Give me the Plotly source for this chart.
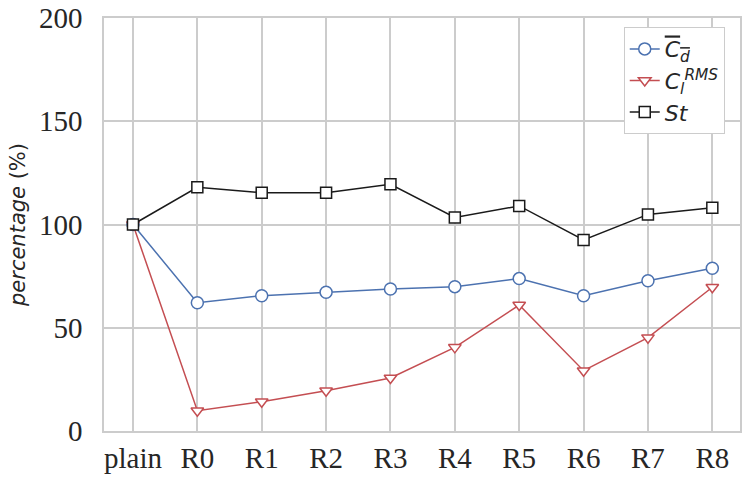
import plotly.graph_objects as go

categories = ["plain", "R0", "R1", "R2", "R3", "R4", "R5", "R6", "R7", "R8"]
cd_values = [100, 62.1, 65.5, 67.2, 68.8, 69.9, 73.8, 65.5, 72.8, 78.8]
cl_values = [100, 9.8, 14.2, 19.5, 25.7, 40.5, 61.0, 29.2, 45.2, 69.6]
st_values = [100, 118.0, 115.4, 115.4, 119.5, 103.4, 109.0, 92.5, 104.9, 108.1]
y_ticks = [0, 50, 100, 150, 200]

xs = list(range(len(categories)))

fig = go.Figure()
fig.add_trace(go.Scatter(
    x=xs, y=cd_values, mode="lines+markers",
    name="<span style='text-decoration:overline'><i>C</i><sub><i>d</i></sub></span>",
    line=dict(color="#4c72b0", width=1.5),
    marker=dict(symbol="circle", size=12, color="white", line=dict(color="#4c72b0", width=1.5)),
))
fig.add_trace(go.Scatter(
    x=xs, y=cl_values, mode="lines+markers",
    name="<i>C</i><sub><i>l</i></sub><sup><i>RMS</i></sup>",
    line=dict(color="#c44e52", width=1.5),
    marker=dict(symbol="triangle-down", size=11, color="white", line=dict(color="#c44e52", width=1.5)),
))
fig.add_trace(go.Scatter(
    x=xs, y=st_values, mode="lines+markers",
    name="<i>St</i>",
    line=dict(color="#1a1a1a", width=1.5),
    marker=dict(symbol="square", size=11, color="white", line=dict(color="#1a1a1a", width=1.5)),
))

fig.update_layout(
    width=750, height=481,
    margin=dict(l=104, r=10, t=18, b=50),
    plot_bgcolor="white", paper_bgcolor="white",
    showlegend=True,
    legend=dict(
        x=0.976, y=0.978, xanchor="right", yanchor="top",
        bgcolor="white", bordercolor="#cccccc", borderwidth=1,
        font=dict(family="DejaVu Sans", size=22, color="#262626"),
        tracegroupgap=3,
    ),
)
fig.update_xaxes(
    range=[-0.45, 9.43],
    tickmode="array", tickvals=xs, ticktext=categories,
    showgrid=True, gridcolor="#cccccc", gridwidth=1.5,
    showline=True, linecolor="#cccccc", linewidth=1.5, mirror=True,
    zeroline=False, ticks="", automargin=False,
    tickfont=dict(family="Liberation Serif", size=29, color="#262626"),
)
fig.update_yaxes(
    range=[0, 200],
    tickmode="array", tickvals=y_ticks,
    showgrid=True, gridcolor="#cccccc", gridwidth=1.5,
    showline=True, linecolor="#cccccc", linewidth=1.5, mirror=True,
    zeroline=False, ticks="", automargin="left", ticklabelstandoff=14,
    tickfont=dict(family="Liberation Serif", size=29, color="#262626"),
    title=dict(text="<i>percentage</i> (%)", font=dict(family="DejaVu Sans", size=21, color="#262626"), standoff=8),
)

fig.write_html("out.html", post_script="document.body.style.margin='0';",
               config={"displayModeBar": False})
